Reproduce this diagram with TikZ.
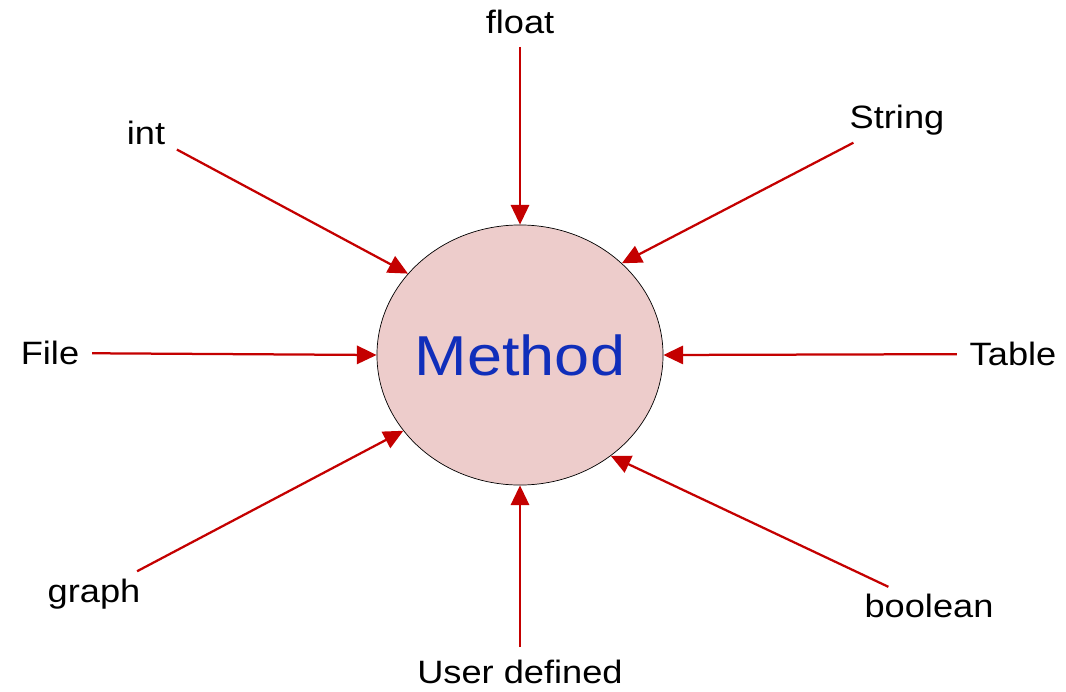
\documentclass[tikz,border=0pt]{standalone}
\usepackage{fontspec}
\setmainfont{Liberation Sans}
\newfontfamily\widesans{Liberation Sans}[FakeStretch=1.12]
\usetikzlibrary{arrows.meta,shapes.geometric}
\definecolor{arrowred}{RGB}{196,0,0}
\definecolor{methodfill}{RGB}{237,204,203}
\definecolor{methodblue}{RGB}{16,46,186}
\tikzset{
  typelabel/.style={font=\widesans\fontsize{23}{26}\selectfont, inner sep=2pt},
  feed/.style={draw=arrowred, line width=1.6pt, -{Triangle[length=14pt,width=13pt]}, shorten <=7pt}
}
\begin{document}
\begin{tikzpicture}[x=0.025cm,y=-0.025cm]
\useasboundingbox (0,0) rectangle (1066,691);
% Metodo al centro
\node[ellipse, draw=black, line width=0.5pt, fill=methodfill, minimum width=7.15cm, minimum height=6.5cm, inner sep=0pt,
  label={[font=\widesans\fontsize{40}{46}\selectfont, text=methodblue]center:Method}] (method) at (520,355) {};

% Tipi
\node[typelabel] (float) at (520,22) {float};
\node[typelabel] (int) at (146,133) {int};
\node[typelabel] (string) at (897,120) {String};
\node[typelabel] (file) at (50,353) {File};
\node[typelabel] (table) at (1013,354) {Table};
\node[typelabel] (graph) at (94,594) {graph};
\node[typelabel] (user) at (520,672) {User defined};
\node[typelabel] (boolean) at (929,606) {boolean};

% Frecce verso il metodo
\draw[feed] (float) -- (method.90);
\draw[feed] (int) -- (method.144);
\draw[feed] (string) -- (method.42);
\draw[feed] (file) -- (method.180);
\draw[feed] (table) -- (method.0);
\draw[feed] (graph) -- (method.213);
\draw[feed] (user) -- (method.270);
\draw[feed] (boolean) -- (method.312);
\end{tikzpicture}
\end{document}
